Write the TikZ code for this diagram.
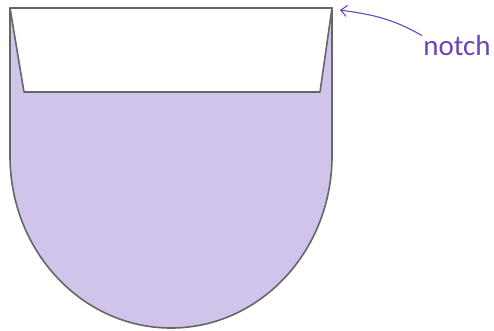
\documentclass[tikz,border=0pt]{standalone}
\usepackage{fontspec}
\setmainfont{Carlito}
\usetikzlibrary{arrows.meta,positioning}
\definecolor{lav}{HTML}{D0C4EA}
\definecolor{edge}{HTML}{666666}
\definecolor{pur}{HTML}{6A45B5}
\tikzset{
  outline/.style={draw=edge,line width=1.6pt,line join=round},
  lbl/.style={text=pur,font=\fontsize{29}{30}\selectfont,inner sep=0pt},
  ar/.style={-{Straight Barb[length=6pt,width=11pt]},line width=1.1pt,draw=pur},
}
\begin{document}
\begin{tikzpicture}[x=1pt,y=1pt]
\useasboundingbox (0,0) rectangle (494,330);
% cup body
\filldraw[outline,fill=lav] (10,322) -- (332,322) -- (332,174)
  arc[start angle=0,end angle=-180,x radius=161,y radius=172] -- cycle;
% notch
\filldraw[outline,fill=white] (10,322) -- (24,238) -- (320,238) -- (332,322) -- cycle;
\coordinate (tip) at (340,320);
\node[lbl,anchor=base] (notch) at (457,274) {notch};
\draw[ar] ([xshift=-1pt]notch.north west) to[out=150,in=-8] (tip);
\end{tikzpicture}
\end{document}
